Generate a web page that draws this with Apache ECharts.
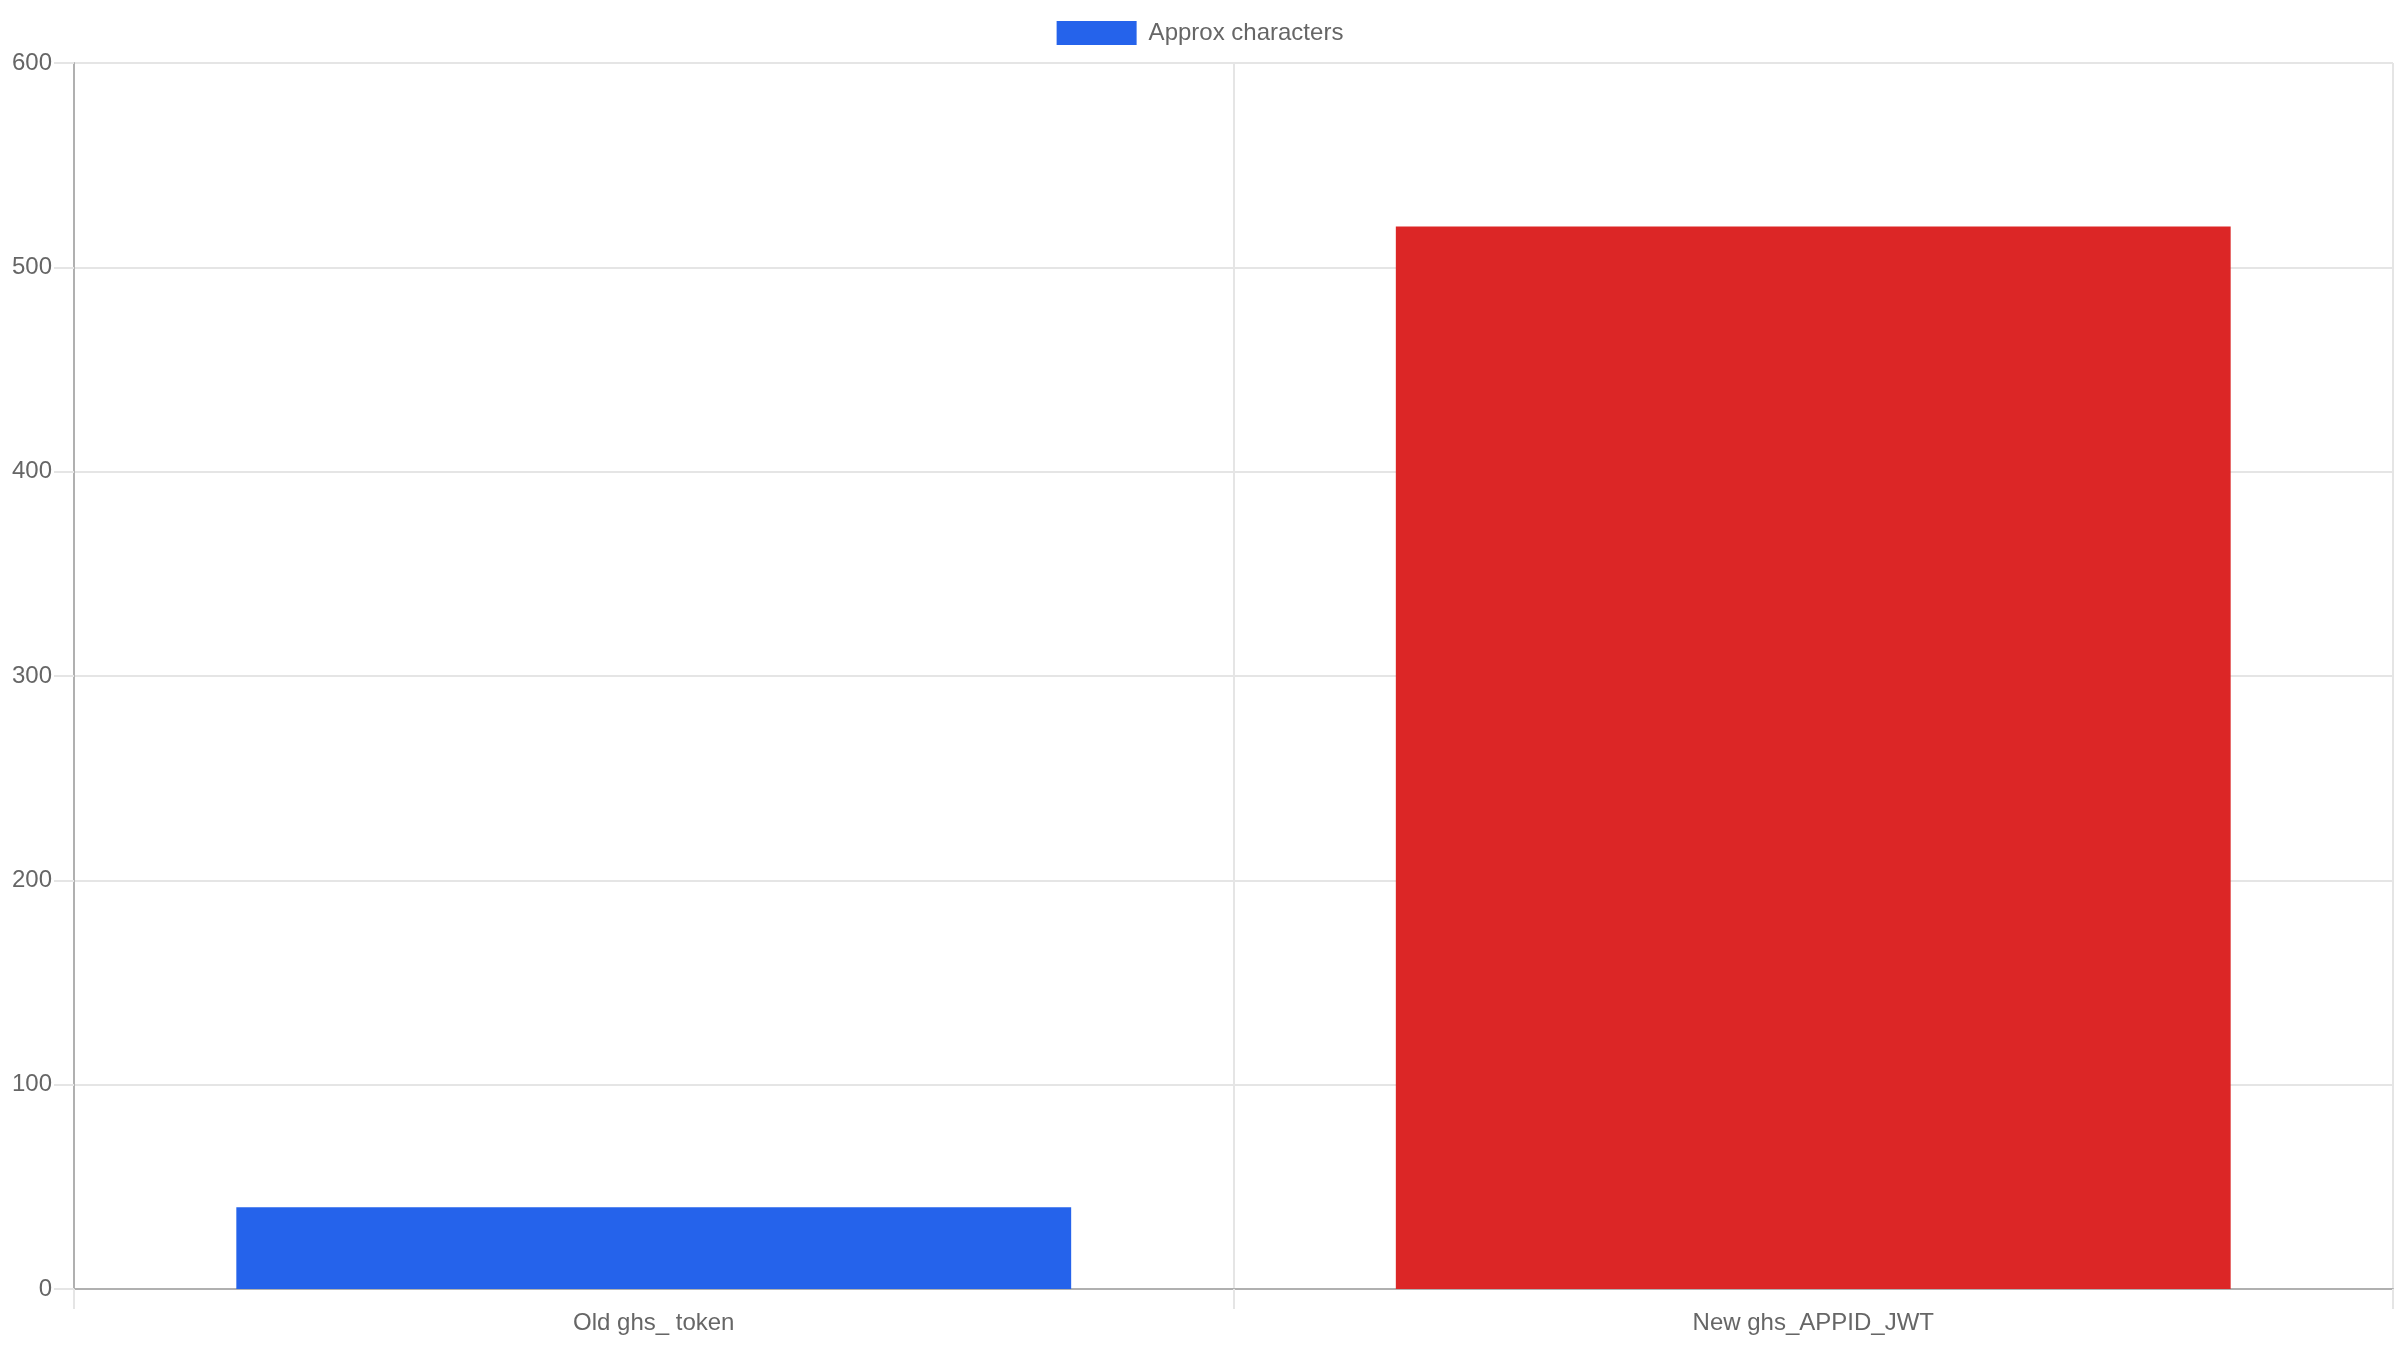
<!DOCTYPE html>
<html>
<head>
<meta charset="utf-8">
<script src="https://cdn.jsdelivr.net/npm/echarts@6/dist/echarts.min.js"></script>
<style>
html,body{margin:0;padding:0;background:#fff;}
#c{width:2400px;height:1350px;}
</style>
</head>
<body>
<div id="c"></div>
<script>
const categories = ['Old ghs_ token', 'New ghs_APPID_JWT'];
const values = [40, 520];
const barColors = ['#2563eb', '#dc2626'];
const seriesName = 'Approx characters';
const yTicks = { min: 0, max: 600, interval: 100 };

const FONT = '"Liberation Sans", Arial, Helvetica, sans-serif';
const GRID = '#e5e5e5';
const AXIS = '#b0b0b0';

const chart = echarts.init(document.getElementById('c'));
chart.setOption({
  animation: false,
  backgroundColor: '#fff',
  textStyle: { fontFamily: FONT },
  legend: {
    left: 'center',
    top: 16,
    itemWidth: 80,
    itemHeight: 24,
    itemGap: 20,
    icon: 'rect',
    textStyle: { fontSize: 24, color: '#666', fontFamily: FONT, padding: [0, 0, 0, 7] },
    data: [seriesName]
  },
  grid: { left: 74, right: 7, top: 63, bottom: 61 },
  xAxis: {
    type: 'category',
    data: categories,
    boundaryGap: true,
    axisLine: { show: true, lineStyle: { color: AXIS, width: 2 } },
    axisTick: { show: true, length: 20, lineStyle: { color: GRID, width: 2 } },
    splitLine: { show: true, lineStyle: { color: GRID, width: 2 } },
    axisLabel: { fontSize: 24, color: '#666', margin: 22, fontFamily: FONT }
  },
  yAxis: {
    type: 'value',
    min: yTicks.min,
    max: yTicks.max,
    interval: yTicks.interval,
    axisLine: { show: true, lineStyle: { color: AXIS, width: 2 } },
    axisTick: { show: true, length: 20, lineStyle: { color: GRID, width: 2 } },
    splitLine: { show: true, lineStyle: { color: GRID, width: 2 } },
    axisLabel: { fontSize: 24, color: '#666', margin: 22, fontFamily: FONT }
  },
  series: [{
    name: seriesName,
    type: 'bar',
    barWidth: '72%',
    itemStyle: { color: barColors[0] },
    data: values.map((v, i) => ({ value: v, itemStyle: { color: barColors[i] } }))
  }]
});
</script>
</body>
</html>
